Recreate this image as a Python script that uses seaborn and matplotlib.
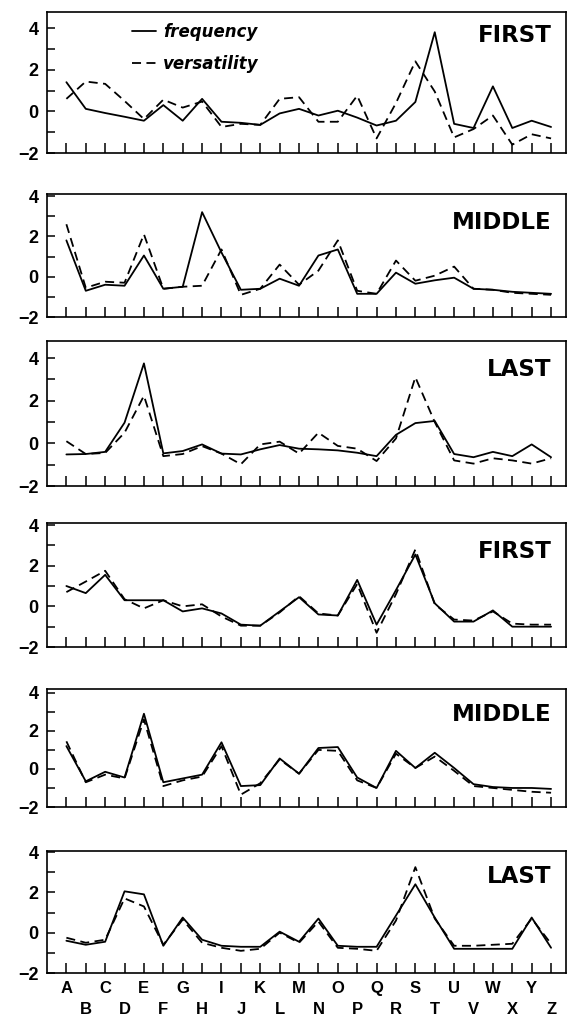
# ==========================================================
# Letter position profiles: frequency vs versatility
# (six stacked panels, letters A-Z on the x axis)
# ==========================================================

import pandas as pd
import matplotlib.pyplot as plt
import matplotlib.transforms as mtransforms
import seaborn as sns


# ----------------------------------------------------------
# 1. Data
# ----------------------------------------------------------
letters = list("ABCDEFGHIJKLMNOPQRSTUVWXYZ")
panel_names = ["FIRST", "MIDDLE", "LAST", "FIRST", "MIDDLE", "LAST"]

freq_1 = [1.4, 0.12, -0.08, -0.26, -0.45, 0.3, -0.45, 0.6, -0.5, -0.55,
          -0.65, -0.1, 0.12, -0.2, 0.03, -0.3, -0.68, -0.45, 0.45, 3.8,
          -0.6, -0.8, 1.2, -0.8, -0.45, -0.75]
vers_1 = [0.6, 1.43, 1.32, 0.5, -0.37, 0.56, 0.18, 0.47, -0.75, -0.6,
          -0.65, 0.6, 0.68, -0.5, -0.5, 0.75, -1.3, 0.4, 2.4, 0.95,
          -1.25, -0.85, -0.2, -1.6, -1.1, -1.3]

freq_2 = [1.8, -0.7, -0.4, -0.45, 1.05, -0.6, -0.5, 3.2, 1.2, -0.65,
          -0.6, -0.1, -0.45, 1.05, 1.35, -0.85, -0.85, 0.2, -0.35, -0.18,
          -0.05, -0.6, -0.65, -0.75, -0.8, -0.85]
vers_2 = [2.6, -0.55, -0.25, -0.3, 2.1, -0.6, -0.5, -0.45, 1.35, -0.9,
          -0.6, 0.6, -0.4, 0.3, 1.8, -0.7, -0.85, 0.8, -0.2, 0.05,
          0.5, -0.6, -0.65, -0.8, -0.85, -0.9]

freq_3 = [-0.52, -0.5, -0.4, 0.97, 3.75, -0.47, -0.36, -0.05, -0.48, -0.52,
          -0.28, -0.08, -0.25, -0.28, -0.33, -0.44, -0.6, 0.4, 0.95, 1.05,
          -0.5, -0.65, -0.4, -0.6, -0.05, -0.65]
vers_3 = [0.1, -0.5, -0.45, 0.5, 2.23, -0.6, -0.5, -0.13, -0.48, -0.98,
          -0.05, 0.08, -0.48, 0.5, -0.12, -0.25, -0.83, 0.23, 3.1, 1.0,
          -0.8, -0.95, -0.7, -0.8, -0.95, -0.7]

freq_4 = [1.0, 0.65, 1.55, 0.3, 0.3, 0.3, -0.25, -0.1, -0.35, -0.9,
          -0.95, -0.25, 0.45, -0.4, -0.45, 1.3, -0.9, 0.8, 2.55, 0.15,
          -0.75, -0.75, -0.2, -1.0, -1.0, -1.0]
vers_4 = [0.7, 1.22, 1.75, 0.35, -0.1, 0.3, 0.0, 0.1, -0.5, -0.95,
          -0.95, -0.3, 0.5, -0.35, -0.45, 1.1, -1.3, 0.6, 2.8, 0.1,
          -0.65, -0.7, -0.25, -0.85, -0.9, -0.9]

freq_5 = [1.2, -0.65, -0.15, -0.45, 2.9, -0.7, -0.5, -0.3, 1.4, -0.9,
          -0.85, 0.55, -0.25, 1.1, 1.15, -0.45, -1.0, 0.95, 0.05, 0.85,
          0.05, -0.8, -0.95, -1.0, -1.0, -1.05]
vers_5 = [1.45, -0.7, -0.3, -0.5, 2.6, -0.9, -0.6, -0.4, 1.2, -1.35,
          -0.75, 0.5, -0.25, 1.0, 0.95, -0.6, -1.0, 0.8, 0.05, 0.65,
          -0.1, -0.9, -1.0, -1.1, -1.2, -1.25]

freq_6 = [-0.4, -0.6, -0.45, 2.05, 1.9, -0.65, 0.75, -0.35, -0.65, -0.7,
          -0.7, 0.05, -0.45, 0.7, -0.65, -0.7, -0.7, 0.85, 2.4, 0.75,
          -0.8, -0.8, -0.8, -0.8, 0.75, -0.75]
vers_6 = [-0.25, -0.5, -0.35, 1.7, 1.3, -0.6, 0.65, -0.5, -0.75, -0.9,
          -0.8, 0.0, -0.5, 0.55, -0.75, -0.8, -0.9, 0.6, 3.25, 0.7,
          -0.65, -0.65, -0.6, -0.55, 0.7, -0.55]

freq_series = [freq_1, freq_2, freq_3, freq_4, freq_5, freq_6]
vers_series = [vers_1, vers_2, vers_3, vers_4, vers_5, vers_6]


# ----------------------------------------------------------
# 2. Layout (pixel boxes of the six panels, 572 x 1019 figure)
# ----------------------------------------------------------
FIG_W, FIG_H = 572, 1019
AX_LEFT, AX_RIGHT = 47, 566
panel_px = [(12, 153), (194, 317), (341, 486), (523, 647), (689, 807), (851, 973)]
panel_ytop = [4.77, 4.1, 4.8, 4.1, 4.2, 4.05]
label_y = [3.65, 2.7, 3.45, 2.7, 2.85, 2.8]


def make_frame(freq, vers):
    df = pd.DataFrame({
        "pos": range(len(letters)),
        "frequency": freq,
        "versatility": vers,
    })
    return df.melt(id_vars="pos", var_name="measure", value_name="value")


def draw_panel(fig, i):
    top, bottom = panel_px[i]
    ax = fig.add_axes([
        AX_LEFT / FIG_W,
        1 - bottom / FIG_H,
        (AX_RIGHT - AX_LEFT) / FIG_W,
        (bottom - top) / FIG_H,
    ])

    df = make_frame(freq_series[i], vers_series[i])
    sns.lineplot(
        data=df, x="pos", y="value",
        style="measure", style_order=["frequency", "versatility"],
        dashes={"frequency": "", "versatility": (5, 3)},
        color="black", linewidth=1.3, ax=ax, legend=(i == 0),
    )

    ax.set_xlim(-1.0, 25.77)
    ax.set_ylim(-2, panel_ytop[i])
    ax.set_xlabel("")
    ax.set_ylabel("")

    # x ticks: even letters on major, odd letters on minor (staggered rows)
    ax.set_xticks(range(0, 26, 2))
    ax.set_xticks(range(1, 26, 2), minor=True)
    if i == len(panel_names) - 1:
        ax.set_xticklabels(letters[0::2])
        ax.set_xticklabels(letters[1::2], minor=True)
    else:
        ax.set_xticklabels([])
        ax.set_xticklabels([], minor=True)
    ax.tick_params(axis="x", which="both", direction="in", length=7,
                   width=1.1, labelsize=12, color="black", labelcolor="black")
    ax.tick_params(axis="x", which="major", pad=6)
    ax.tick_params(axis="x", which="minor", pad=21)

    ax.set_yticks([-2, 0, 2, 4])
    ax.set_yticklabels(["\u22122", "0", "2", "4"])
    ax.set_yticks([-1, 1, 3], minor=True)
    ax.tick_params(axis="y", which="both", direction="in", length=6,
                   width=1.1, labelsize=13, pad=6,
                   color="black", labelcolor="black")

    for lab in ax.get_xticklabels(which="both") + ax.get_yticklabels():
        lab.set_fontweight("bold")

    for side in ["left", "right", "top", "bottom"]:
        ax.spines[side].set_visible(True)
        ax.spines[side].set_color("black")
        ax.spines[side].set_linewidth(1.2)

    trans = mtransforms.blended_transform_factory(ax.transAxes, ax.transData)
    ax.text(0.972, label_y[i], panel_names[i], transform=trans,
            ha="right", va="center", fontsize=16.5, fontweight="bold",
            color="black", family=["DejaVu Sans"])

    if i == 0:
        leg = ax.get_legend()
        handles = leg.legend_handles
        labels = [t.get_text() for t in leg.get_texts()]
        for h in handles:
            h.set_color("black")
            h.set_linewidth(1.3)
        ax.legend(handles, labels, loc="center left",
                  bbox_to_anchor=(0.164, 0.745), frameon=False,
                  borderpad=0, borderaxespad=0, handlelength=1.45,
                  handletextpad=0.4, labelspacing=0.85, labelcolor="black",
                  prop={"family": ["DejaVu Sans"], "weight": "bold",
                        "style": "oblique", "size": 12})

    return ax


# ----------------------------------------------------------
# 3. Main
# ----------------------------------------------------------
def main():
    sns.set_style("ticks")
    plt.rcParams["font.family"] = ["Liberation Sans", "DejaVu Sans"]
    plt.rcParams["text.color"] = "black"
    plt.rcParams["xtick.color"] = "black"
    plt.rcParams["ytick.color"] = "black"

    fig = plt.figure(figsize=(FIG_W / 100, FIG_H / 100), dpi=100)
    for i in range(len(panel_names)):
        draw_panel(fig, i)

    fig.savefig("out.png", dpi=100)
    plt.close(fig)


if __name__ == "__main__":
    main()
